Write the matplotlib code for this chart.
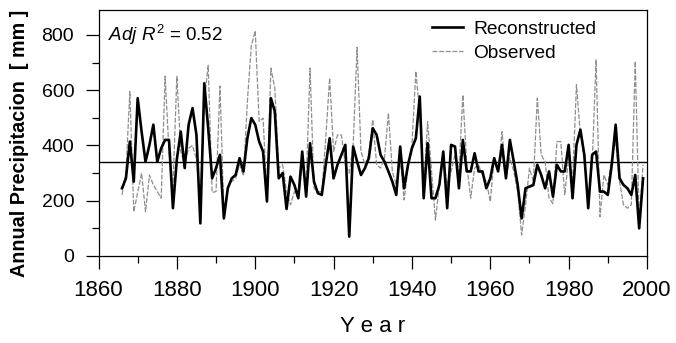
import matplotlib
matplotlib.use("Agg")
import matplotlib.pyplot as plt
from matplotlib.ticker import MultipleLocator

years = list(range(1866, 2000))

reconstructed = [
    245, 281, 414, 269, 571, 450, 341, 402, 475, 341,   # 1866-1875
    390, 420, 420, 173, 350, 450, 318, 475, 535, 438,   # 1876-1885
    118, 625, 462, 281, 318, 366, 136, 245, 281, 293,   # 1886-1895
    354, 306, 426, 499, 475, 414, 378, 197, 571, 523,   # 1896-1905
    281, 300, 170, 287, 257, 209, 378, 215, 408, 269,   # 1906-1915
    227, 221, 330, 426, 281, 330, 366, 402, 70, 396,    # 1916-1925
    342, 293, 318, 354, 462, 438, 366, 341, 306, 269,   # 1926-1935
    221, 396, 245, 330, 390, 426, 577, 209, 408, 209,   # 1936-1945
    209, 257, 378, 173, 402, 396, 245, 420, 306, 306,   # 1946-1955
    372, 306, 306, 245, 281, 354, 306, 402, 281, 420,   # 1956-1965
    341, 257, 136, 245, 251, 257, 330, 293, 245, 306,   # 1966-1975
    215, 330, 306, 306, 402, 209, 402, 457, 366, 173,   # 1976-1985
    366, 378, 233, 233, 221, 330, 475, 281, 257, 245,   # 1986-1995
    221, 293, 100, 281,                                 # 1996-1999
]

observed = [
    221, 300, 595, 160, 230, 300, 160, 293, 257, 233,   # 1866-1875
    209, 650, 378, 250, 650, 378, 330, 390, 400, 350,   # 1876-1885
    200, 560, 690, 230, 233, 615, 160, 250, 270, 280,   # 1886-1895
    330, 290, 560, 760, 815, 487, 499, 221, 680, 607,   # 1896-1905
    318, 330, 233, 185, 233, 209, 330, 260, 680, 245,   # 1906-1915
    233, 233, 426, 644, 378, 438, 438, 330, 300, 400,   # 1916-1925
    755, 378, 330, 366, 493, 330, 318, 354, 517, 306,   # 1926-1935
    257, 354, 203, 318, 402, 668, 511, 245, 487, 306,   # 1936-1945
    130, 257, 354, 257, 306, 366, 306, 583, 330, 209,   # 1946-1955
    318, 330, 293, 269, 197, 354, 306, 450, 281, 354,   # 1956-1965
    306, 233, 76, 185, 318, 269, 571, 366, 341, 209,    # 1966-1975
    190, 414, 414, 221, 354, 269, 620, 438, 354, 197,   # 1976-1985
    330, 710, 142, 293, 257, 354, 414, 269, 185, 173,   # 1986-1995
    185, 704, 130, 330,                                 # 1996-1999
]

mean_value = 340
x_ticks = [1860, 1880, 1900, 1920, 1940, 1960, 1980, 2000]
y_ticks = [0, 200, 400, 600, 800]

plt.rcParams['font.family'] = ['Liberation Sans', 'DejaVu Sans']
plt.rcParams['mathtext.fontset'] = 'custom'
plt.rcParams['mathtext.rm'] = 'Liberation Sans'
plt.rcParams['mathtext.it'] = 'Liberation Sans:italic'

W, H = 676, 343
fig = plt.figure(figsize=(W / 100, H / 100), dpi=100)
ax = fig.add_axes([98.5 / W, (H - 256) / H, (647 - 98.5) / W, (256 - 10) / H])

ax.plot(years, observed, color='#8f8f8f', lw=0.9, ls=(0, (4, 1.3)), label='Observed', zorder=2)
ax.plot(years, reconstructed, color='black', lw=1.9, label='Reconstructed', zorder=3)
ax.axhline(mean_value, color='black', lw=1.0, zorder=1)

ax.set_xlim(1860, 2000)
ax.set_ylim(0, 890)
ax.set_xticks(x_ticks)
ax.set_yticks(y_ticks)
ax.xaxis.set_minor_locator(MultipleLocator(10))
ax.yaxis.set_minor_locator(MultipleLocator(100))
ax.tick_params(axis='both', which='major', direction='out', length=9.5, width=0.9, pad=8)
ax.tick_params(axis='x', which='major', labelsize=16)
ax.tick_params(axis='y', which='major', labelsize=14)
ax.tick_params(axis='both', which='minor', direction='out', length=5, width=0.9)
for s in ax.spines.values():
    s.set_linewidth(0.9)

fig.text(373 / W, 1 - 326 / H, 'Y e a r', fontsize=16, ha='center', va='center')
fig.text(20 / W, 1 - 143.5 / H, 'Annual Precipitacion  [ mm ]', fontsize=14.2,
         fontweight='bold', rotation=90, ha='center', va='center')

ax.text(0.017, 0.898, r'$Adj\ R^{\mathrm{2}}$ = 0.52', transform=ax.transAxes,
        fontsize=13.5, ha='left', va='center')

handles, labels = ax.get_legend_handles_labels()
ax.legend(handles[::-1], labels[::-1], loc='upper left', frameon=False, fontsize=13.8,
          handlelength=1.6, borderaxespad=0, borderpad=0, bbox_to_anchor=(0.608, 0.958),
          labelspacing=0.36, handletextpad=0.57)

fig.savefig('out.png', dpi=100)
